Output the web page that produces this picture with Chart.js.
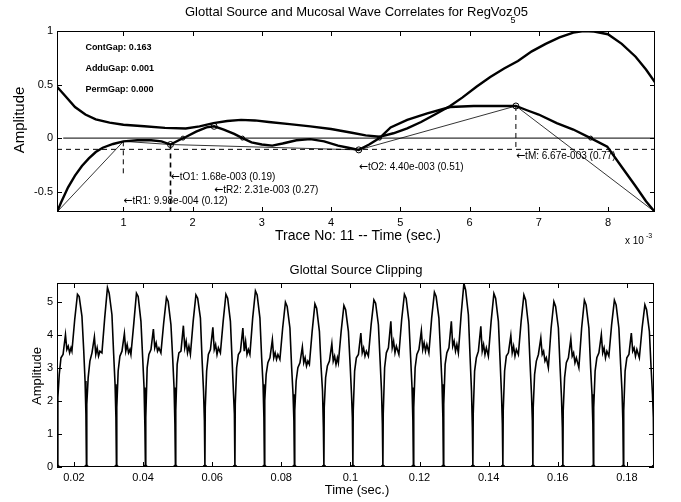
<!DOCTYPE html>
<html>
<head>
<meta charset="utf-8">
<script src="https://cdn.jsdelivr.net/npm/chart.js@4.4.0/dist/chart.umd.min.js"></script>
<style>
html, body { margin: 0; padding: 0; background: #fff; }
#wrap { position: relative; width: 681px; height: 502px; }
canvas { position: absolute; left: 0; }
#topChart { top: 0; }
#clipChart { top: 250px; }
</style>
</head>
<body>
<div id="wrap">
  <canvas id="topChart" width="681" height="250"></canvas>
  <canvas id="clipChart" width="681" height="252"></canvas>
</div>
<script>
const FONT = '"Liberation Sans", Arial, Helvetica, sans-serif';

// ---- top panel: glottal source / mucosal wave correlates (time in ms, x 10^-3 s)
const srcTime = [0.04, 0.15, 0.3, 0.45, 0.6, 0.8, 1.0, 1.3, 1.6, 1.9, 2.1, 2.3, 2.5, 2.7, 2.9, 3.1, 3.4, 3.7, 4.0, 4.3, 4.5, 4.7, 4.9, 5.1, 5.3, 5.5, 5.72, 5.9, 6.1, 6.3, 6.5, 6.7, 6.9, 7.1, 7.3, 7.5, 7.65, 7.8, 8.0, 8.2, 8.4, 8.55, 8.68];
const srcAmp  = [0.48, 0.40, 0.29, 0.22, 0.175, 0.145, 0.125, 0.11, 0.095, 0.09, 0.11, 0.14, 0.16, 0.17, 0.165, 0.15, 0.13, 0.11, 0.085, 0.05, 0.025, 0.012, 0.045, 0.09, 0.15, 0.22, 0.30, 0.38, 0.48, 0.57, 0.65, 0.72, 0.81, 0.88, 0.94, 0.985, 1.0, 0.995, 0.97, 0.88, 0.76, 0.64, 0.52];

const flowTime = [0.04, 0.1, 0.2, 0.3, 0.4, 0.5, 0.6, 0.7, 0.85, 1.0, 1.2, 1.4, 1.55, 1.68, 1.8, 1.9, 2.05, 2.2, 2.31, 2.45, 2.6, 2.72, 2.85, 3.0, 3.15, 3.3, 3.5, 3.7, 3.9, 4.1, 4.25, 4.4, 4.55, 4.7, 4.86, 5.1, 5.39, 5.72, 6.06, 6.4, 6.67, 6.83, 7.0, 7.26, 7.5, 7.75, 7.99, 8.2, 8.4, 8.55, 8.68];
const flowAmp  = [-0.69, -0.60, -0.46, -0.35, -0.26, -0.19, -0.13, -0.09, -0.055, -0.03, -0.02, -0.02, -0.03, -0.06, -0.02, 0.01, 0.06, 0.10, 0.11, 0.08, 0.04, 0.0, -0.04, -0.06, -0.07, -0.05, -0.02, -0.01, -0.03, -0.07, -0.09, -0.11, -0.06, 0.0, 0.10, 0.17, 0.23, 0.29, 0.30, 0.30, 0.30, 0.26, 0.22, 0.14, 0.08, 0.0, -0.08, -0.27, -0.45, -0.59, -0.69];

const polyTime = [0.04, 1.0, 1.68, 4.4, 6.67, 8.68];
const polyAmp  = [-0.69, -0.03, -0.06, -0.11, 0.30, -0.69];

const zeroTime = [0.13, 8.68];
const threshTime = [0.04, 8.68];
const threshAmp = -0.105;

const markTime = [1.68, 2.31, 4.40, 6.67];
const markAmp  = [-0.06, 0.11, -0.11, 0.30];
const crossTime = [1.86, 2.72, 4.70, 7.75];

const dropTime   = [0.998, 1.68, 6.67];
const dropTop    = [-0.03, -0.06, 0.30];
const dropBottom = [-0.36, -0.69, -0.12];

const eventTime = [0.998, 1.68, 2.31, 4.40, 6.67];
const eventAmp  = [-0.59, -0.365, -0.486, -0.27, -0.17];
const eventText = ['tR1: 9.98e-004 (0.12)', 'tO1: 1.68e-003 (0.19)', 'tR2: 2.31e-003 (0.27)', 'tO2: 4.40e-003 (0.51)', 'tM: 6.67e-003 (0.77)'];

const gapText = ['ContGap: 0.163', 'AdduGap: 0.001', 'PermGap: 0.000'];
const gapTime = 0.45;
const gapAmp = [0.85, 0.65, 0.45];

const topXTicks = [1, 2, 3, 4, 5, 6, 7, 8];
const topYTicks = [-0.5, 0, 0.5, 1];

// ---- bottom panel: glottal source clipping (one line per cycle)
const clipTime = [
  0.01525, 0.01535, 0.01575, 0.01625, 0.01685, 0.01755, 0.01795, 0.01835, 0.01875, 0.01915, 0.01942, 0.02022, 0.02102, 0.02152, 0.02232, 0.02282, 0.02322, 0.02347,
  0.02362, 0.02372, 0.02412, 0.02462, 0.02522, 0.02592, 0.02632, 0.02672, 0.02712, 0.02752, 0.02810, 0.02890, 0.02970, 0.03020, 0.03100, 0.03150, 0.03190, 0.03215,
  0.03230, 0.03240, 0.03280, 0.03330, 0.03390, 0.03460, 0.03500, 0.03540, 0.03580, 0.03620, 0.03649, 0.03729, 0.03809, 0.03859, 0.03939, 0.03989, 0.04029, 0.04054,
  0.04069, 0.04079, 0.04119, 0.04169, 0.04229, 0.04299, 0.04339, 0.04379, 0.04419, 0.04459, 0.04517, 0.04597, 0.04677, 0.04727, 0.04807, 0.04857, 0.04897, 0.04922,
  0.04937, 0.04947, 0.04987, 0.05037, 0.05097, 0.05167, 0.05207, 0.05247, 0.05287, 0.05327, 0.05370, 0.05450, 0.05530, 0.05580, 0.05660, 0.05710, 0.05750, 0.05775,
  0.05790, 0.05800, 0.05840, 0.05890, 0.05950, 0.06020, 0.06060, 0.06100, 0.06140, 0.06180, 0.06238, 0.06318, 0.06398, 0.06448, 0.06528, 0.06578, 0.06618, 0.06643,
  0.06658, 0.06668, 0.06708, 0.06758, 0.06818, 0.06888, 0.06928, 0.06968, 0.07008, 0.07048, 0.07092, 0.07172, 0.07252, 0.07302, 0.07382, 0.07432, 0.07472, 0.07497,
  0.07512, 0.07522, 0.07562, 0.07612, 0.07672, 0.07742, 0.07782, 0.07822, 0.07862, 0.07902, 0.07960, 0.08040, 0.08120, 0.08170, 0.08250, 0.08300, 0.08340, 0.08365,
  0.08380, 0.08390, 0.08430, 0.08480, 0.08540, 0.08610, 0.08650, 0.08690, 0.08730, 0.08770, 0.08813, 0.08893, 0.08973, 0.09023, 0.09103, 0.09153, 0.09193, 0.09218,
  0.09233, 0.09243, 0.09283, 0.09333, 0.09393, 0.09463, 0.09503, 0.09543, 0.09583, 0.09623, 0.09652, 0.09732, 0.09812, 0.09862, 0.09942, 0.09992, 0.10032, 0.10057,
  0.10072, 0.10082, 0.10122, 0.10172, 0.10232, 0.10302, 0.10342, 0.10382, 0.10422, 0.10462, 0.10520, 0.10600, 0.10680, 0.10730, 0.10810, 0.10860, 0.10900, 0.10925,
  0.10940, 0.10950, 0.10990, 0.11040, 0.11100, 0.11170, 0.11210, 0.11250, 0.11290, 0.11330, 0.11403, 0.11483, 0.11563, 0.11613, 0.11693, 0.11743, 0.11783, 0.11808,
  0.11823, 0.11833, 0.11873, 0.11923, 0.11983, 0.12053, 0.12093, 0.12133, 0.12173, 0.12213, 0.12271, 0.12351, 0.12431, 0.12481, 0.12561, 0.12611, 0.12651, 0.12676,
  0.12691, 0.12701, 0.12741, 0.12791, 0.12851, 0.12921, 0.12961, 0.13001, 0.13041, 0.13081, 0.13124, 0.13204, 0.13284, 0.13334, 0.13414, 0.13464, 0.13504, 0.13529,
  0.13544, 0.13554, 0.13594, 0.13644, 0.13704, 0.13774, 0.13814, 0.13854, 0.13894, 0.13934, 0.13992, 0.14072, 0.14152, 0.14202, 0.14282, 0.14332, 0.14372, 0.14397,
  0.14412, 0.14422, 0.14462, 0.14512, 0.14572, 0.14642, 0.14682, 0.14722, 0.14762, 0.14802, 0.14860, 0.14940, 0.15020, 0.15070, 0.15150, 0.15200, 0.15240, 0.15265,
  0.15280, 0.15290, 0.15330, 0.15380, 0.15440, 0.15510, 0.15550, 0.15590, 0.15630, 0.15670, 0.15728, 0.15808, 0.15888, 0.15938, 0.16018, 0.16068, 0.16108, 0.16133,
  0.16148, 0.16158, 0.16198, 0.16248, 0.16308, 0.16378, 0.16418, 0.16458, 0.16498, 0.16538, 0.16611, 0.16691, 0.16771, 0.16821, 0.16901, 0.16951, 0.16991, 0.17016,
  0.17031, 0.17041, 0.17081, 0.17131, 0.17191, 0.17261, 0.17301, 0.17341, 0.17381, 0.17421, 0.17479, 0.17559, 0.17639, 0.17689, 0.17769, 0.17819, 0.17859, 0.17884,
  0.17899, 0.17909, 0.17949, 0.17999, 0.18059, 0.18129, 0.18169, 0.18209, 0.18249, 0.18289, 0.18361, 0.18441, 0.18521, 0.18571, 0.18651, 0.18701, 0.18741, 0.18766,
  0.18781
];
const clipAmp = [
  0, 2.1, 2.8, 3.3, 3.4, 4.0, 3.55, 3.65, 3.45, 3.6, 3.5, 4.45, 5.22, 5.15, 4.55, 3.55, 2.6, 1.6,
  0, 1.9, 2.7, 3.2, 3.45, 3.93, 3.4, 3.6, 3.35, 3.5, 3.45, 4.5, 5.42, 5.25, 4.6, 3.4, 2.5, 1.5,
  0, 1.8, 2.9, 3.35, 3.5, 4.03, 3.5, 3.7, 3.45, 3.55, 3.4, 4.3, 5.25, 5.15, 4.4, 3.3, 2.4, 1.2,
  0, 1.5, 3.0, 3.4, 3.55, 4.17, 3.6, 3.75, 3.5, 3.6, 3.45, 4.35, 5.12, 5.0, 4.3, 3.3, 2.4, 1.3,
  0, 1.7, 3.1, 3.45, 3.5, 4.27, 3.6, 3.8, 3.45, 3.65, 3.4, 4.4, 5.2, 5.1, 4.5, 3.2, 2.3, 1.4,
  0, 1.8, 2.9, 3.4, 3.55, 4.22, 3.55, 3.7, 3.4, 3.6, 3.45, 4.4, 5.22, 5.1, 4.4, 3.2, 2.2, 1.6,
  0, 1.9, 3.0, 3.4, 3.5, 4.2, 3.5, 3.8, 3.4, 3.55, 3.4, 4.5, 5.32, 5.2, 4.5, 3.3, 2.5, 1.5,
  0, 2.0, 2.8, 3.15, 3.3, 3.85, 3.3, 3.45, 3.25, 3.4, 3.25, 4.2, 4.98, 4.85, 4.2, 3.0, 2.2, 1.4,
  0, 1.7, 2.6, 3.0, 3.15, 3.63, 3.15, 3.3, 3.05, 3.2, 3.1, 4.1, 4.93, 4.8, 4.1, 3.0, 2.3, 1.2,
  0, 1.8, 2.7, 3.05, 3.2, 3.73, 3.2, 3.35, 3.1, 3.3, 3.15, 4.1, 4.88, 4.75, 4.1, 3.1, 2.2, 1.5,
  0, 1.7, 2.9, 3.3, 3.4, 4.05, 3.45, 3.6, 3.35, 3.5, 3.35, 4.3, 5.05, 4.95, 4.3, 3.2, 2.3, 1.3,
  0, 1.6, 3.0, 3.45, 3.6, 4.4, 3.6, 3.8, 3.45, 3.65, 3.4, 4.45, 5.22, 5.1, 4.4, 3.3, 2.4, 1.4,
  0, 1.8, 3.0, 3.4, 3.55, 4.12, 3.55, 3.75, 3.5, 3.7, 3.45, 4.5, 5.28, 5.15, 4.5, 3.4, 2.5, 1.5,
  0, 1.9, 3.1, 3.45, 3.6, 4.4, 3.65, 3.8, 3.5, 3.7, 3.45, 4.6, 5.55, 5.35, 4.6, 3.3, 2.3, 1.2,
  0, 1.6, 2.9, 3.3, 3.5, 4.25, 3.5, 3.7, 3.4, 3.6, 3.35, 4.4, 5.24, 5.1, 4.4, 3.2, 2.2, 1.3,
  0, 1.7, 2.9, 3.35, 3.45, 3.97, 3.45, 3.65, 3.35, 3.55, 3.4, 4.4, 5.2, 5.05, 4.3, 3.1, 2.2, 1.4,
  0, 1.8, 2.8, 3.2, 3.4, 3.9, 3.4, 3.5, 3.2, 3.3, 3.0, 4.2, 5.0, 4.85, 4.2, 3.0, 2.1, 1.2,
  0, 1.7, 2.7, 3.15, 3.3, 3.87, 3.35, 3.45, 3.15, 3.3, 3.0, 4.2, 5.04, 4.9, 4.2, 3.0, 2.2, 1.3,
  0, 1.8, 2.9, 3.3, 3.45, 4.0, 3.45, 3.6, 3.3, 3.5, 3.35, 4.3, 5.04, 4.9, 4.2, 3.1, 2.3, 1.4,
  0, 1.7, 2.9, 3.3, 3.4, 4.05, 3.5, 3.6, 3.35, 3.55, 3.3, 4.2, 4.9, 4.75, 4.1, 3.0, 2.2, 1.5,
  0
];
const troughTime = [0.01525, 0.02362, 0.03230, 0.04069, 0.04937, 0.05790, 0.06658, 0.07512, 0.08380, 0.09233, 0.10072, 0.10940, 0.11823, 0.12691, 0.13544, 0.14412, 0.15280, 0.16148, 0.17031, 0.17899, 0.18781];

const clipXTicks = [0.02, 0.04, 0.06, 0.08, 0.1, 0.12, 0.14, 0.16, 0.18];
const clipYTicks = [0, 1, 2, 3, 4, 5];

function zip(xs, ys) {
  return xs.map((x, i) => ({x: x, y: Array.isArray(ys) ? ys[i] : ys}));
}

function axis(min, max, ticks, fit) {
  return {
    type: 'linear', min: min, max: max,
    grid: {display: false, drawTicks: false},
    border: {display: false},
    afterBuildTicks: s => { s.ticks = ticks.map(v => ({value: v})); },
    afterFit: fit,
    ticks: {color: '#000', font: {family: FONT, size: 11}, padding: 4, callback: v => String(v)}
  };
}

function line(data, width, dash) {
  return {data: data, showLine: true, borderColor: '#000', borderWidth: width,
          borderDash: dash || [], pointRadius: 0, fill: false};
}

function marks(data, r) {
  return {data: data, showLine: false, pointRadius: r, pointBorderColor: '#000',
          pointBackgroundColor: 'rgba(0,0,0,0)', pointBorderWidth: 1};
}

// MATLAB style box with inward ticks on all sides
function frame(xTicks, yTicks) {
  return {
    id: 'frame',
    afterDatasetsDraw(chart) {
      const {ctx, chartArea: a, scales: {x, y}} = chart;
      ctx.save();
      ctx.strokeStyle = '#000';
      ctx.lineWidth = 1;
      ctx.strokeRect(a.left + 0.5, a.top + 0.5, a.right - a.left - 1, a.bottom - a.top - 1);
      ctx.beginPath();
      xTicks.forEach(v => {
        const px = Math.round(x.getPixelForValue(v)) + 0.5;
        ctx.moveTo(px, a.bottom); ctx.lineTo(px, a.bottom - 5);
        ctx.moveTo(px, a.top); ctx.lineTo(px, a.top + 5);
      });
      yTicks.forEach(v => {
        const py = Math.round(y.getPixelForValue(v)) + 0.5;
        ctx.moveTo(a.left, py); ctx.lineTo(a.left + 5, py);
        ctx.moveTo(a.right, py); ctx.lineTo(a.right - 5, py);
      });
      ctx.stroke();
      ctx.restore();
    }
  };
}

function vText(ctx, text, x, y, size) {
  ctx.save();
  ctx.translate(x, y);
  ctx.rotate(-Math.PI / 2);
  ctx.font = size + 'px ' + FONT;
  ctx.textAlign = 'center';
  ctx.textBaseline = 'middle';
  ctx.fillText(text, 0, 0);
  ctx.restore();
}

const topTexts = {
  id: 'topTexts',
  afterDraw(chart) {
    const {ctx, scales: {x, y}} = chart;
    ctx.save();
    ctx.fillStyle = '#000';

    // title with the subscript
    ctx.font = '13px ' + FONT;
    ctx.textBaseline = 'alphabetic';
    ctx.textAlign = 'left';
    const main = 'Glottal Source and Mucosal Wave Correlates for RegVoz';
    const wMain = ctx.measureText(main).width;
    const wTail = ctx.measureText('05').width;
    const x0 = 356 - (wMain + wTail) / 2;
    ctx.fillText(main, x0, 16);
    ctx.fillText('05', x0 + wMain + 1, 16);
    ctx.font = '9px ' + FONT;
    ctx.fillText('5', x0 + wMain - 2, 23);

    // axis labels
    ctx.font = '14px ' + FONT;
    ctx.textAlign = 'center';
    ctx.textBaseline = 'middle';
    ctx.fillText('Trace No: 11 -- Time (sec.)', 358, 236);
    vText(ctx, 'Amplitude', 20, 120, 15);

    ctx.textAlign = 'left';
    ctx.textBaseline = 'alphabetic';
    ctx.font = '10px ' + FONT;
    ctx.fillText('x 10', 625, 244);
    ctx.font = '7px ' + FONT;
    ctx.fillText('-3', 646, 238);

    // gap values
    ctx.font = 'bold 9px ' + FONT;
    ctx.textBaseline = 'middle';
    gapText.forEach((t, i) => ctx.fillText(t, x.getPixelForValue(gapTime), y.getPixelForValue(gapAmp[i])));

    // event annotations, each led by a left arrow
    eventText.forEach((t, i) => {
      const px = x.getPixelForValue(eventTime[i]);
      const py = y.getPixelForValue(eventAmp[i]);
      ctx.font = '11px "DejaVu Sans", sans-serif';
      ctx.fillText('\u2190', px, py);
      const wa = ctx.measureText('\u2190').width;
      ctx.font = '10px ' + FONT;
      ctx.fillText(t, px + wa, py);
    });
    ctx.restore();
  }
};

const clipTexts = {
  id: 'clipTexts',
  afterDraw(chart) {
    const {ctx} = chart;
    ctx.save();
    ctx.fillStyle = '#000';
    ctx.font = '13px ' + FONT;
    ctx.textAlign = 'center';
    ctx.textBaseline = 'middle';
    ctx.fillText('Glottal Source Clipping', 356, 20);
    ctx.fillText('Time (sec.)', 357, 240);
    vText(ctx, 'Amplitude', 37, 126, 13);
    ctx.restore();
  }
};

const topSets = [
  line(zip(threshTime, threshAmp), 1, [5, 4]),
  line(zip(zeroTime, 0), 1),
  line(zip(polyTime, polyAmp), 0.8),
  line(zip(srcTime, srcAmp), 2.4),
  line(zip(flowTime, flowAmp), 2.4),
  marks(zip(markTime, markAmp), 3),
  marks(zip(crossTime, 0), 2)
];
dropTime.forEach((t, i) => {
  topSets.push(line(zip([t, t], [dropTop[i], dropBottom[i]]), i === 1 ? 1.6 : 1, [5, 4]));
});

new Chart(document.getElementById('topChart'), {
  type: 'scatter',
  data: {datasets: topSets},
  options: {
    responsive: false,
    animation: false,
    events: [],
    layout: {padding: {top: 31, right: 26, left: 0, bottom: 0}},
    plugins: {legend: {display: false}, tooltip: {enabled: false}},
    scales: {
      x: axis(0.04, 8.68, topXTicks, s => { s.height = 38; }),
      y: axis(-0.69, 1, topYTicks, s => { s.width = 57; })
    }
  },
  plugins: [frame(topXTicks, topYTicks), topTexts]
});

new Chart(document.getElementById('clipChart'), {
  type: 'scatter',
  data: {
    datasets: [
      line(zip(clipTime, clipAmp), 1.6),
      {data: zip(troughTime, 0), showLine: false, pointRadius: 2, pointBackgroundColor: '#000', pointBorderColor: '#000'}
    ]
  },
  options: {
    responsive: false,
    animation: false,
    events: [],
    layout: {padding: {top: 33, right: 27, left: 0, bottom: 0}},
    plugins: {legend: {display: false}, tooltip: {enabled: false}},
    scales: {
      x: axis(0.0151, 0.18785, clipXTicks, s => { s.height = 35; }),
      y: axis(0, 5.56, clipYTicks, s => { s.width = 57; })
    }
  },
  plugins: [frame(clipXTicks, clipYTicks), clipTexts]
});
</script>
</body>
</html>
